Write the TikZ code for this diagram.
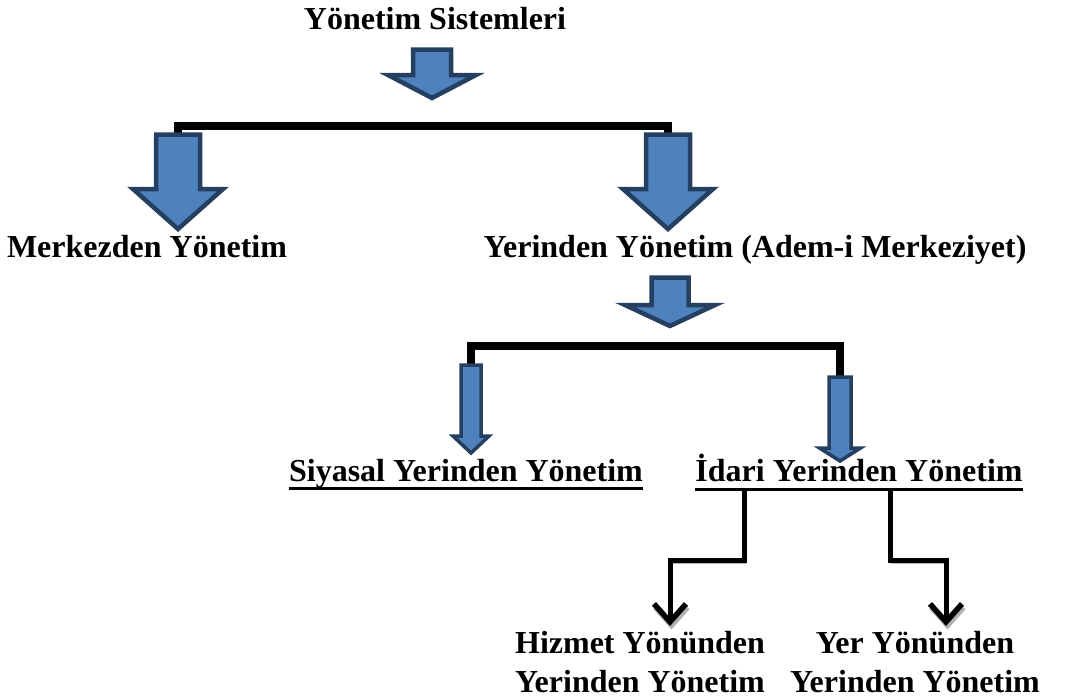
\documentclass[tikz,border=0pt]{standalone}
\usepackage{fontspec}
\setmainfont{Liberation Serif}
\usetikzlibrary{arrows.meta}

\definecolor{arrowfill}{HTML}{4F81BD}
\definecolor{arrowedge}{HTML}{243F60}

\tikzset{
  blockarrow/.style={fill=arrowfill,draw=arrowedge,line width=4.5pt,line join=miter},
  bracket/.style={line width=8pt,line join=miter},
  elbow/.style={line width=5pt,line join=miter,
    -{Straight Barb[length=18pt,width=32pt,line width=5.5pt]},
    preaction={draw=gray!60,transform canvas={shift={(1.5pt,-3.5pt)}}}},
  nodetext/.style={font=\bfseries\fontsize{32}{39}\selectfont,inner sep=0pt,anchor=base},
  uline/.style={line width=3pt}
}

% block arrow: [style] x, top, head start, tip, half shaft, half head
\newcommand{\blockarrow}[7][]{%
  \draw[blockarrow,#1] (#2-#6,#3) -- (#2+#6,#3) -- (#2+#6,#4) -- (#2+#7,#4)
    -- (#2,#5) -- (#2-#7,#4) -- (#2-#6,#4) -- cycle;}

\begin{document}
\begin{tikzpicture}[x=1pt,y=-1pt]
\useasboundingbox (0,0) rectangle (1069,697);

\node[nodetext] (sistem) at (435,29) {Yönetim Sistemleri};
\node[nodetext] (merkez) at (147,257) {Merkezden Yönetim};
\node[nodetext] (yerinden) at (755,257) {Yerinden Yönetim (Adem-i Merkeziyet)};
\node[nodetext] (siyasal) at (466,481) {Siyasal Yerinden Yönetim};
\node[nodetext] (idari) at (859,481) {İdari Yerinden Yönetim};
% base of a two-line node is the last line
\node[nodetext,align=center] (hizmet) at (640,692) {Hizmet Yönünden\\Yerinden Yönetim};
\node[nodetext,align=center] (yer) at (915,692) {Yer Yönünden\\Yerinden Yönetim};

% underlines
\draw[uline] ([yshift=-7pt]siyasal.base west) -- ([yshift=-7pt]siyasal.base east);
\draw[uline] ([yshift=-8pt]idari.base west) -- ([yshift=-8pt]idari.base east);

% tops of the split arrows
\coordinate (merkeztop) at (178,135);
\coordinate (yerindentop) at (668,135);
\coordinate (siyasaltop) at (471,366);
\coordinate (idaritop) at (840,378);

\draw[bracket] (merkeztop) -- ++(0,-9) -| (yerindentop);
\draw[bracket] (siyasaltop) -- ++(0,-20) -| (idaritop);

\blockarrow{432}{49.5}{75}{98}{19}{44}
\blockarrow{178}{134.5}{189}{229}{22}{45}
\blockarrow{668}{134.5}{189}{229}{22}{45}
\blockarrow{670}{277.5}{305}{326}{18.5}{45}
\blockarrow[line width=3.5pt]{471}{365}{436}{453}{10}{18}
\blockarrow[line width=3.5pt]{840}{377}{448}{461}{11}{20.5}

% elbows to the lower level
\coordinate (h1) at (744,491);
\coordinate (h2) at (670,626);
\coordinate (y1) at (890,491);
\coordinate (y2) at (946,626);
\draw[elbow] (h1) |- (h2 |- 0,560) -- (h2);
\draw[elbow] (y1) |- (y2 |- 0,560) -- (y2);
\end{tikzpicture}
\end{document}
